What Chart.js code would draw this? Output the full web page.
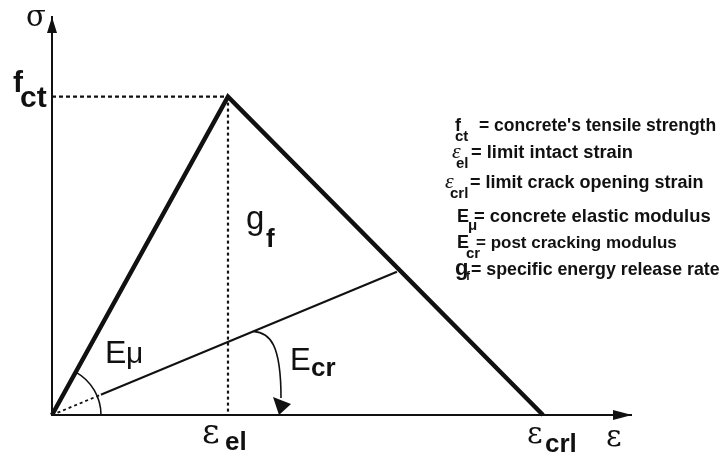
<!DOCTYPE html>
<html>
<head>
<meta charset="utf-8">
<script src="https://cdn.jsdelivr.net/npm/chart.js@4.4.1/dist/chart.umd.min.js"></script>
<style>
  html, body { margin: 0; padding: 0; background: #fff; }
</style>
</head>
<body>
<canvas id="sigmaEps" width="727" height="456"></canvas>
<script>
// tension softening law: strain in units of eps_el, stress in units of f_ct
const lawStrain = [0, 1.0, 2.79];   // 0, eps_el, eps_crl
const lawStress = [0, 1.0, 0];      // 0, f_ct, 0
// secant line giving the post cracking modulus
const ecrStrain = [0, 1.96];
const ecrStress = [0, 0.45];
const strainMax = 3.29;
const stressMax = 1.25;

// symbol list on the right
const legendSym = ['f', 'ε', 'ε', 'E', 'E', 'g'];
const legendSub = ['ct', 'el', 'crl', 'μ', 'cr', 'f'];
const legendText = [
  "= concrete's tensile strength",
  '= limit intact strain',
  '= limit crack opening strain',
  '= concrete elastic modulus',
  '= post cracking modulus',
  '= specific energy release rate'
];

const SANS = '"Liberation Sans", Arial, sans-serif';
const SERIF = '"Liberation Serif", "Times New Roman", serif';
const GREEK = '"DejaVu Serif", serif';
const RING_R = 53;

const pts = (xs, ys) => xs.map((x, i) => ({ x: x, y: ys[i] }));

function txt(ctx, s, x, y, font) {
  ctx.font = font;
  ctx.fillText(s, x, y);
}

// keeps the dotted part of the Ecr line inside the angle arc, solid part outside
const ringClip = {
  id: 'ringClip',
  beforeDatasetDraw(chart, args) {
    const ds = chart.data.datasets[args.index];
    if (!ds.ring) return;
    const { ctx, scales: { x, y } } = chart;
    ctx.save();
    ctx.beginPath();
    if (ds.ring === 'outside') ctx.rect(0, 0, chart.width, chart.height);
    ctx.arc(x.getPixelForValue(0), y.getPixelForValue(0), RING_R, 0, Math.PI * 2);
    ctx.clip(ds.ring === 'outside' ? 'evenodd' : 'nonzero');
  },
  afterDatasetDraw(chart, args) {
    if (chart.data.datasets[args.index].ring) chart.ctx.restore();
  }
};

const annotations = {
  id: 'annotations',
  afterDraw(chart) {
    const { ctx, chartArea: ca, scales: { x, y } } = chart;
    const ox = x.getPixelForValue(0), oy = y.getPixelForValue(0);
    const px = x.getPixelForValue(lawStrain[1]), py = y.getPixelForValue(lawStress[1]);
    const cx = x.getPixelForValue(lawStrain[2]);
    const ex = x.getPixelForValue(ecrStrain[1]), ey = y.getPixelForValue(ecrStress[1]);

    ctx.save();
    ctx.fillStyle = '#111';
    ctx.strokeStyle = '#111';

    // axis arrow heads
    ctx.beginPath();
    ctx.moveTo(ox, ca.top);
    ctx.lineTo(ox - 5, ca.top + 16);
    ctx.lineTo(ox + 5, ca.top + 16);
    ctx.closePath();
    ctx.fill();
    ctx.beginPath();
    ctx.moveTo(ca.right + 1, oy);
    ctx.lineTo(ca.right - 18, oy - 5);
    ctx.lineTo(ca.right - 18, oy + 5);
    ctx.closePath();
    ctx.fill();

    // E_mu angle arc
    const aPeak = Math.atan2(oy - py, px - ox);
    ctx.lineWidth = 1.6;
    ctx.beginPath();
    ctx.arc(ox, oy, 49, -aPeak, 0);
    ctx.stroke();

    // E_cr curved arrow
    const aEcr = Math.atan2(oy - ey, ex - ox);
    const sx = ox + 218 * Math.cos(aEcr), sy = oy - 218 * Math.sin(aEcr);
    ctx.beginPath();
    ctx.moveTo(sx, sy);
    ctx.bezierCurveTo(sx + 17, sy + 1, ox + 229, oy - 70, ox + 229, oy - 17);
    ctx.stroke();
    ctx.beginPath();
    ctx.moveTo(ox + 221, oy - 18);
    ctx.lineTo(ox + 239, oy - 11);
    ctx.lineTo(ox + 227, oy);
    ctx.closePath();
    ctx.fill();

    ctx.textAlign = 'left';
    ctx.textBaseline = 'alphabetic';

    // axis names
    txt(ctx, 'σ', ox - 26, ca.top + 9, '29px ' + GREEK);
    txt(ctx, 'ε', ca.right - 25, oy + 31, '30px ' + GREEK);

    // f_ct
    txt(ctx, 'f', ox - 39, py - 5, 'bold 30px ' + SANS);
    txt(ctx, 'ct', ox - 32, py + 10, 'bold 30px ' + SANS);

    // eps_el, eps_crl
    txt(ctx, 'ε', px - 26, oy + 28, '34px ' + GREEK);
    txt(ctx, 'el', px - 3, oy + 35, 'bold 26px ' + SANS);
    txt(ctx, 'ε', cx - 16, oy + 28, '30px ' + GREEK);
    txt(ctx, 'crl', cx + 2, oy + 37, 'bold 26px ' + SANS);

    // g_f inside the triangle
    txt(ctx, 'g', px + 18, 229, '33px ' + SANS);
    txt(ctx, 'f', px + 38, 247, 'bold 26px ' + SANS);

    // moduli
    txt(ctx, 'E', ox + 53, oy - 52, '32px ' + SANS);
    txt(ctx, 'μ', ox + 74, oy - 52, '30px ' + SANS);
    txt(ctx, 'E', ox + 238, oy - 45, '31px ' + SANS);
    txt(ctx, 'cr', ox + 259, oy - 39, 'bold 26px ' + SANS);

    // symbol list
    const symX = [455, 452, 445, 457, 457, 455];
    const subX = [455, 456, 450, 468, 466, 466];
    const subDy = [10, 10, 10, 8, 10, 5];
    const eqX = [479, 471, 470, 474, 476, 471];
    const base = [131, 158, 188, 222, 248, 275];
    const eqSize = [17.5, 18.3, 18, 18.4, 17, 17.8];
    const symFont = ['bold 18px ' + SANS, 'italic 22px ' + SERIF, 'italic 22px ' + SERIF,
                     'bold 18px ' + SANS, 'bold 18px ' + SANS, 'bold 22px ' + SANS];
    legendSym.forEach((s, i) => {
      txt(ctx, s, symX[i], base[i], symFont[i]);
      txt(ctx, legendSub[i], subX[i], base[i] + subDy[i], 'bold ' + (i === 5 ? 12 : 15) + 'px ' + SANS);
      txt(ctx, legendText[i], eqX[i], base[i], 'bold ' + eqSize[i] + 'px ' + SANS);
    });
    ctx.restore();
  }
};

const line = (data, width, dash, extra) => Object.assign({
  data: data,
  showLine: true,
  borderColor: '#111',
  borderWidth: width,
  borderDash: dash,
  pointRadius: 0,
  clip: false
}, extra || {});

new Chart(document.getElementById('sigmaEps'), {
  type: 'scatter',
  data: {
    datasets: [
      line([{ x: 0, y: lawStress[1] }, { x: lawStrain[1], y: lawStress[1] }], 2.2, [4, 3]),
      line([{ x: lawStrain[1], y: lawStress[1] }, { x: lawStrain[1], y: 0 }], 2.2, [3, 3]),
      line(pts(ecrStrain, ecrStress), 1.8, [3, 3], { ring: 'inside' }),
      line(pts(ecrStrain, ecrStress), 2, [], { ring: 'outside' }),
      line(pts(lawStrain, lawStress), 4.5, [], { borderJoinStyle: 'miter' })
    ]
  },
  options: {
    responsive: false,
    animation: false,
    layout: { padding: { left: 52, right: 96, top: 17, bottom: 41 } },
    plugins: { legend: { display: false }, tooltip: { enabled: false } },
    scales: {
      x: {
        type: 'linear', min: 0, max: strainMax,
        grid: { display: false }, ticks: { display: false },
        border: { display: true, color: '#111', width: 2 },
        afterFit(axis) { axis.height = 0; }
      },
      y: {
        type: 'linear', min: 0, max: stressMax,
        grid: { display: false }, ticks: { display: false },
        border: { display: true, color: '#111', width: 2 },
        afterFit(axis) { axis.width = 0; }
      }
    }
  },
  plugins: [ringClip, annotations]
});
</script>
</body>
</html>
